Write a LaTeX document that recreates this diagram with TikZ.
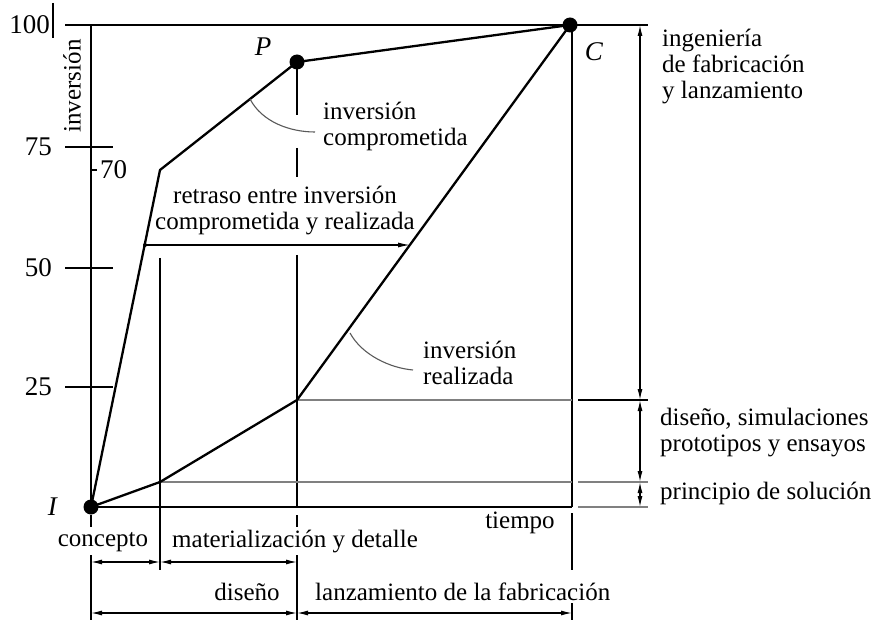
\documentclass[tikz,border=0pt]{standalone}
\usepackage{fontspec}
\setmainfont{Liberation Serif}
\usetikzlibrary{arrows.meta}
\begin{document}
\begin{tikzpicture}[x=1pt,y=-1pt,
  dot/.style={circle,fill=black,inner sep=0pt,minimum size=15pt},
  smalldot/.style={circle,fill=black,inner sep=0pt,minimum size=4pt},
  curve/.style={line width=2.3pt,line join=round},
  axis/.style={line width=1.3pt},
  greyline/.style={line width=1.8pt,draw=black!50},
  leader/.style={line width=1.1pt,draw=black!65},
  lbl/.style={font=\fontsize{25}{26}\selectfont,inner sep=0pt},
  num/.style={font=\fontsize{27}{30}\selectfont,inner sep=0pt},
  dimarrow/.style={line width=1.2pt,{Latex[length=11pt,width=5pt]}-{Latex[length=11pt,width=5pt]}},
  tipend/.style={line width=1.2pt,-{Latex[length=12pt,width=5pt]}}
]
\useasboundingbox (0,0) rectangle (880,620);

% key coordinates
\coordinate (k70) at (160,170);
\coordinate (rA) at (160,482);
\coordinate (rB) at (297,400);
\coordinate (topL) at (65,25);
\coordinate (topR) at (648,25);
\coordinate (axTop) at (91,25);
\coordinate (botR) at (572,507);

% frame
\draw[axis] (topL) -- (topR);
\draw[axis] (axTop) -- (91,507);
\draw[axis] (91,507) -- (botR);
\draw[axis] (572,25) -- (botR);
\draw[axis] (53,3) -- (53,38);
\draw[axis] (91,515) -- (91,527);
\draw[axis] (91,555) -- (91,620);
\draw[axis] (572,513) -- (572,570);
\draw[axis] (572,603) -- (572,620);

% ticks
\draw[axis] (65,147) -- (113,147);
\draw[axis] (65,268) -- (113,268);
\draw[axis] (65,387) -- (113,387);
\draw[axis] (91,170) -- (97,170);

% verticals
\draw[axis] (160,258) -- (160,570);
\draw[axis] (297,62) -- (297,115);
\draw[axis] (297,148) -- (297,177);
\draw[axis] (297,255) -- (297,507);
\draw[axis] (297,515) -- (297,527);
\draw[axis] (297,555) -- (297,620);

% grey horizontals
\draw[greyline] (rA) -- (572,482);
\draw[greyline] (rB) -- (572,400);
\draw[axis] (578,400) -- (648,400);
\draw[greyline] (578,482) -- (648,482);
\draw[greyline] (578,507) -- (648,507);

% points
\node[dot] (I) at (91,507) {};
\node[dot] (P) at (297,62) {};
\node[dot] (C) at (570,25) {};

% curves
\draw[curve] (I.center) -- (k70) -- (P.center) -- (C.center);
\draw[curve] (I.center) -- (rA) -- (rB) -- (C.center);

% retraso arrow
\node[smalldot] (rs) at (145,245) {};
\coordinate (re) at (410,245);
\draw[tipend] (rs.center) -- (re);

% leaders
\coordinate (lc1) at (250,99);
\coordinate (lc2) at (315,132);
\draw[leader] (lc1) .. controls (262,122) and (290,132) .. (lc2);
\coordinate (lr1) at (350,333);
\coordinate (lr2) at (413,370);
\draw[leader] (lr1) .. controls (362,355) and (390,368) .. (lr2);

% right dimensions
\coordinate (d0) at (640,25);
\coordinate (d1) at (640,400);
\coordinate (d2) at (640,482);
\coordinate (d3) at (640,507);
\draw[dimarrow] (d0) -- (d1);
\draw[dimarrow] (d1) -- (d2);
\draw[dimarrow] (d2) -- (d3);

% bottom dimensions
\coordinate (b1) at (91,562);
\coordinate (b2) at (160,562);
\coordinate (b3) at (297,562);
\draw[dimarrow] (b1) -- (b2);
\draw[dimarrow] (b2) -- (b3);
\coordinate (c1) at (91,613);
\coordinate (c2) at (297,613);
\coordinate (c3) at (572,613);
\draw[dimarrow] (c1) -- (c2);
\draw[dimarrow] (c2) -- (c3);

% numbers
\node[num,anchor=east] (n100) at (50,25) {100};
\node[num,anchor=east] (n75) at (52,147) {75};
\node[num,anchor=east] (n50) at (52,268) {50};
\node[num,anchor=east] (n25) at (52,387) {25};
\node[num,anchor=west] (n70) at (100,170) {70};
\node[lbl,rotate=90] (yl) at (72,86) {inversión};

\node[num] (lI) at (53,507) {\textit{I}};
\node[num] (lP) at (263,47) {\textit{P}};
\node[num] (lC) at (594,52) {\textit{C}};

% texts
\node[lbl,anchor=west,align=left] (tc) at (323,126) {inversión\\comprometida};
\node[lbl,align=center] (tr) at (285,211) {retraso entre inversión\\comprometida y realizada};
\node[lbl,anchor=west,align=left] (tre) at (423,363) {inversión\\realizada};
\node[lbl,anchor=west,align=left] (t1) at (662,67) {ingeniería\\de fabricación\\y lanzamiento};
\node[lbl,anchor=west,align=left] (t2) at (660,433) {diseño, simulaciones\\prototipos y ensayos};
\node[lbl,anchor=west] (t3) at (660,493) {principio de solución};
\node[lbl] (tcon) at (103,542) {concepto};
\node[lbl,anchor=west] (tmat) at (172,542) {materialización y detalle};
\node[lbl] (ttie) at (520,523) {tiempo};
\node[lbl] (tdis) at (247,592) {diseño};
\node[lbl,anchor=west] (tlan) at (315,592) {lanzamiento de la fabricación};
\end{tikzpicture}
\end{document}
